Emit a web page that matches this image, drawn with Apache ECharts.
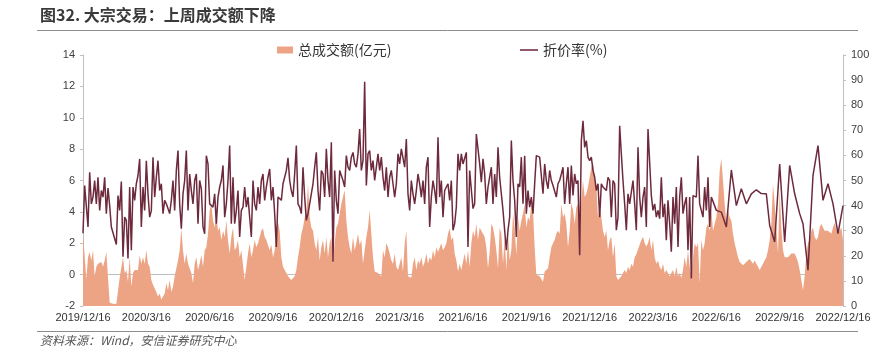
<!DOCTYPE html>
<html><head><meta charset="utf-8">
<script src="https://cdn.jsdelivr.net/npm/echarts@6/dist/echarts.min.js"></script>
<style>html,body{margin:0;padding:0;background:#fff}#c{width:894px;height:358px}</style>
</head><body><div id="c"></div>
<script>
const tickLabels = ['2019/12/16','2020/3/16','2020/6/16','2020/9/16','2020/12/16','2021/3/16','2021/6/16','2021/9/16','2021/12/16','2022/3/16','2022/6/16','2022/9/16','2022/12/16'];
const pointsPerQuarter = 38;
const amountName = '总成交额(亿元)';
const discountName = '折价率(%)';

const amountValues = [
2.6,1.2,-0.3,1.1,1.45,0.9,1.55,-0.1,0.5,0.7,
0.6,0.8,0.5,0.9,1.45,1.4,-1.8,-1.82,-1.85,-1.85,
-1.88,-1.9,-0.2,-0.1,1.1,0.1,0.3,-0.45,1.1,-0.75,
0.1,0.3,0.2,0.3,1.25,0.7,1.1,0.7,1.55,0.7,
0.5,-0.35,-0.65,-0.55,-1.1,-1.4,-1.2,-1.58,-1.5,-1.2,
-0.55,-1.0,-0.35,-1.1,-0.75,-0.1,-0.15,0.9,1.55,2.95,
1.55,0.7,1.35,0.7,0.8,0.1,-0.55,0.7,1.1,0.3,
0.7,1.25,0.5,1.55,1.75,2.6,4.1,4.5,3.45,3.0,
3.9,2.8,3.0,2.2,2.8,2.4,3.45,2.2,1.35,2.4,
3.0,1.55,1.75,2.2,1.1,1.55,1.45,-0.35,0.5,1.35,
2.0,1.1,1.55,2.2,1.75,2.0,2.4,2.8,2.95,2.4,
2.2,2.1,1.55,1.9,1.1,1.55,3.0,3.35,2.8,1.1,
0.5,0.3,0.1,-0.1,-0.2,-0.35,-0.45,-0.1,0.3,1.1,
1.75,2.6,3.0,3.65,3.9,5.8,3.65,3.0,2.8,2.0,
1.55,2.4,0.9,1.75,2.2,1.35,2.4,1.1,2.0,2.4,
0.7,2.0,3.0,3.25,3.9,4.5,4.95,5.4,3.45,2.4,
1.75,1.35,2.4,1.55,2.0,2.6,1.9,2.2,0.7,1.55,
2.4,3.0,4.1,4.2,1.1,0.2,0.1,0.1,0.0,-0.1,
1.55,1.1,2.0,1.75,1.35,0.9,0.7,1.35,0.5,0.3,
0.7,1.1,0.2,2.0,2.8,-0.1,-0.2,-0.2,0.7,1.1,
0.3,0.9,0.7,1.1,0.5,0.8,1.35,0.7,1.1,0.9,
1.55,1.1,1.75,1.45,1.55,2.0,1.55,1.75,2.0,2.6,
2.95,2.2,2.4,1.35,0.9,0.2,0.7,0.3,
0.4,1.35,0.7,1.55,0.5,2.0,2.8,2.4,3.25,2.2,
3.0,2.8,2.6,2.4,1.75,0.4,1.45,3.25,3.0,2.4,
1.55,0.4,3.0,2.6,0.7,2.4,0.3,2.6,0.9,1.55,
3.9,3.0,1.25,3.65,2.8,3.45,3.9,4.5,3.0,3.65,
3.45,4.5,4.1,1.75,0.0,0.0,-0.1,-0.2,-0.45,0.2,
0.3,0.4,1.1,1.75,2.0,2.2,2.6,2.8,2.6,4.5,
3.65,3.9,3.25,1.75,2.8,4.6,4.1,3.25,4.3,4.5,
2.0,4.7,6.0,4.95,5.15,5.6,6.2,6.85,7.15,6.2,
5.7,3.65,4.3,3.65,2.8,2.4,2.8,1.55,2.2,2.4,
1.1,2.0,-0.1,-0.35,-0.35,-0.1,0.1,0.3,0.1,0.5,
0.3,0.7,0.5,1.1,1.3,1.6,1.9,2.2,2.4,2.0,
1.8,2.0,2.4,1.55,2.2,1.1,0.7,0.9,0.5,0.3,
0.7,0.1,0.3,0.2,-0.1,0.1,0.3,-0.1,0.5,-0.1,
0.1,-0.2,0.3,1.1,0.5,1.55,0.5,-0.1,1.1,2.0,
1.75,2.0,-0.55,2.2,1.55,2.0,3.0,3.25,2.8,4.1,
2.8,3.25,3.65,4.5,6.6,7.4,6.0,4.5,3.45,4.1,
3.65,3.45,2.6,2.0,1.55,1.1,0.8,0.7,0.6,0.7,
0.8,0.9,1.0,0.9,0.7,0.9,0.7,0.5,0.3,0.4,
0.7,0.9,1.1,1.55,2.2,3.25,5.8,4.5,3.0,1.35,
5.4,3.0,1.55,1.1,1.1,1.1,1.2,1.35,1.45,1.35,
1.1,0.8,0.3,-0.35,-1.0,-0.1,1.35,2.0,2.2,2.8,
3.0,2.4,2.2,2.4,3.0,3.25,3.0,2.8,2.7,2.8,
2.8,2.6,3.0,3.3,2.9,2.6,2.5,3.0,2.2
];

const discountValues = [
29,48,48,31.5,53.3,40.7,43.4,50,40.7,51.3,
38.1,46,43.4,51.3,36.8,47,40,31.5,null,null,
24.5,44,38.1,49.6,19.6,35.4,34.1,18.9,47.4,22.2,
47.4,42.1,48.7,52,58.6,31.5,47.4,38.1,57.9,44.7,
35.4,38,59.3,43.4,51.3,57.9,46,48.7,36.8,42.1,
40.7,38.8,36.8,42.1,50,38.1,54,61.9,40.7,30.8,
44.7,50,61.9,38.1,52.6,46,40.7,50,52.6,32.8,
50,46.7,31.5,28.8,59.9,56.6,40.7,40,39.4,44.7,
32.8,43.4,47.4,50,56,35.4,40.7,50,63.9,32.8,
51.3,32.8,38.1,46,27.5,38.1,39.4,47.4,39.4,43.4,
35.4,27.5,50,40.7,38.1,47.4,40.7,50,52.6,42.1,
47.4,51.3,54.6,42.1,47.4,36.8,23.5,43.4,42.7,42.1,
48.7,51.3,54,59,50,46,43.4,52.6,63.9,40.7,
39.4,36.8,55.3,43.4,34.1,36.8,40.7,44.7,48.7,55.3,
61.2,46,38.1,54,52.6,43.4,62.6,50,43.4,65.2,
17.6,54,42.1,36.8,54,54,50,47.4,59.9,55.3,
54,59.3,61.2,56.6,55.3,60.6,70.5,54,57.9,89.3,
48,60.6,61.9,54,57.9,50,50,60.6,54,59.3,
51.3,46,55.3,43.4,51.3,54,48.7,43.4,48.7,60.6,
56.6,62.6,63.2,55.3,66.5,44.7,38.1,50,44.7,40.7,
46,52.6,48.7,43.4,50,40.7,55.3,59.3,31.5,43.4,
50,46,40.7,67.2,43.4,50,35.4,46,47.4,48.7,
42.1,50,30.2,32.8,39.4,60.6,54,60.6,
56.6,57.3,61.2,23.5,54,54,38.8,40.7,68.5,62.6,
56.6,49.3,58.6,52.6,40.7,47.4,46.7,55.3,40.7,52.6,
43.4,63.2,51.3,50.7,38.1,37.4,22.2,30.2,35.4,65.9,
50,42.1,27.5,48.7,47.4,59.3,40.7,59.9,36.8,46,
39.4,43.4,36.8,48.7,59.9,null,59.3,58.6,44.7,56.6,
50,46.7,54,50,48,48.7,43.4,48.7,50,52.6,
55.3,40.7,48.7,55.3,40.7,56,44,52.6,48.7,50,
20.2,65.9,73.8,63.2,65.9,59.3,57.9,59.3,54,51.3,
46,48.7,35.4,48.7,47.4,48,46,51.3,50,35.4,
50,48.7,30.2,35.4,71.8,60.6,50,40.7,30.2,44.7,
40.7,40,50,40.7,30.2,63.2,43.4,35.4,43.4,47.4,
31.5,70.5,71.2,44,38.1,40.7,35.4,38.1,34.8,51.3,
35.4,40.7,26.2,42.1,32.8,21.6,43.4,32.8,47.4,23.5,
43.4,51.3,36.8,40.7,43.4,22.2,43.4,11,44,43.7,
43.4,59.9,40.7,40.7,35.4,47.4,38.1,51.3,31.5,43.4,
42.7,null,38.1,null,null,37.4,null,null,31.5,null,
null,54.2,null,null,40,null,null,46.7,null,null,
40.7,null,null,44.7,null,null,46.3,null,null,44.8,
null,null,44.7,null,32.1,null,null,25.5,null,null,
56.6,null,null,25.5,null,null,56,null,null,44.7,
null,null,36.8,null,32.8,null,null,14.3,null,null,
52,null,null,63.9,null,null,42.1,null,null,48.7,
null,null,40.7,null,null,28.8,null,null,40
];

const categories = amountValues.map((_, i) => String(i));

const numFont = '"Liberation Sans Narrow", "Liberation Sans", sans-serif';
const cjkFont = '"Noto Sans CJK SC", sans-serif';
const axisGray = '#BFBFBF';
const areaColor = '#EDA485';
const lineColor = '#6E2A3D';

const chart = echarts.init(document.getElementById('c'));
chart.setOption({
  animation: false,
  backgroundColor: '#fff',
  grid: { left: 83, right: 51, top: 55, bottom: 52, containLabel: false },
  legend: [
    { data: [{ name: amountName, icon: 'rect' }], left: 277, top: 43, padding: 0,
      itemWidth: 16, itemHeight: 7, itemGap: 5,
      textStyle: { fontFamily: cjkFont, fontSize: 14, color: '#333' } },
    { data: [{ name: discountName, icon: 'rect', itemStyle: { color: '#8F5A6B' } }], left: 520, top: 43, padding: 0,
      itemWidth: 18, itemHeight: 2,
      textStyle: { fontFamily: cjkFont, fontSize: 14, color: '#333' } }
  ],
  xAxis: {
    type: 'category', data: categories, boundaryGap: false,
    axisLine: { lineStyle: { color: axisGray } },
    axisTick: { interval: pointsPerQuarter - 1, length: 3, lineStyle: { color: axisGray } },
    axisLabel: {
      interval: pointsPerQuarter - 1, margin: 6, fontSize: 11, color: '#333', fontFamily: numFont,
      showMinLabel: true, showMaxLabel: true,
      formatter: (v, idx) => tickLabels[Math.round(idx / pointsPerQuarter)]
    },
    splitLine: { show: false }
  },
  yAxis: [
    { type: 'value', min: -2, max: 14, interval: 2,
      axisLine: { show: true, lineStyle: { color: axisGray } },
      axisTick: { show: true, length: 3, lineStyle: { color: axisGray } },
      axisLabel: { margin: 8, fontSize: 11, color: '#404040', fontFamily: numFont },
      splitLine: { show: false } },
    { type: 'value', min: 0, max: 100, interval: 10, position: 'right',
      axisLine: { show: true, lineStyle: { color: axisGray } },
      axisTick: { show: true, length: 3, lineStyle: { color: axisGray } },
      axisLabel: { margin: 8, fontSize: 11, color: '#404040', fontFamily: numFont },
      splitLine: { show: false } }
  ],
  series: [
    { name: amountName, type: 'line', yAxisIndex: 0, data: amountValues,
      symbol: 'none', lineStyle: { width: 0, color: areaColor },
      itemStyle: { color: areaColor },
      areaStyle: { color: areaColor, opacity: 1, origin: 'start' }, z: 1 },
    { name: discountName, type: 'line', yAxisIndex: 1, data: discountValues,
      symbol: 'none', showSymbol: false, connectNulls: true,
      lineStyle: { width: 1.5, color: lineColor }, itemStyle: { color: lineColor }, z: 3 }
  ],
  graphic: [
    { type: 'text', left: 40, top: 7, style: { text: '图32. 大宗交易：上周成交额下降', font: 'bold 16px "Noto Sans CJK SC", sans-serif', fill: '#3a3a3a' } },
    { type: 'line', shape: { x1: 37, y1: 30.5, x2: 858, y2: 30.5 }, style: { stroke: '#8c8c8c', lineWidth: 1 } },
    { type: 'line', shape: { x1: 37, y1: 331.5, x2: 858, y2: 331.5 }, style: { stroke: '#8c8c8c', lineWidth: 1 } },
    { type: 'text', left: 40, top: 334, style: { text: '资料来源：Wind，安信证券研究中心', font: 'italic 12px "Noto Sans CJK SC", sans-serif', fill: '#555' } }
  ]
});
</script>
</body></html>
